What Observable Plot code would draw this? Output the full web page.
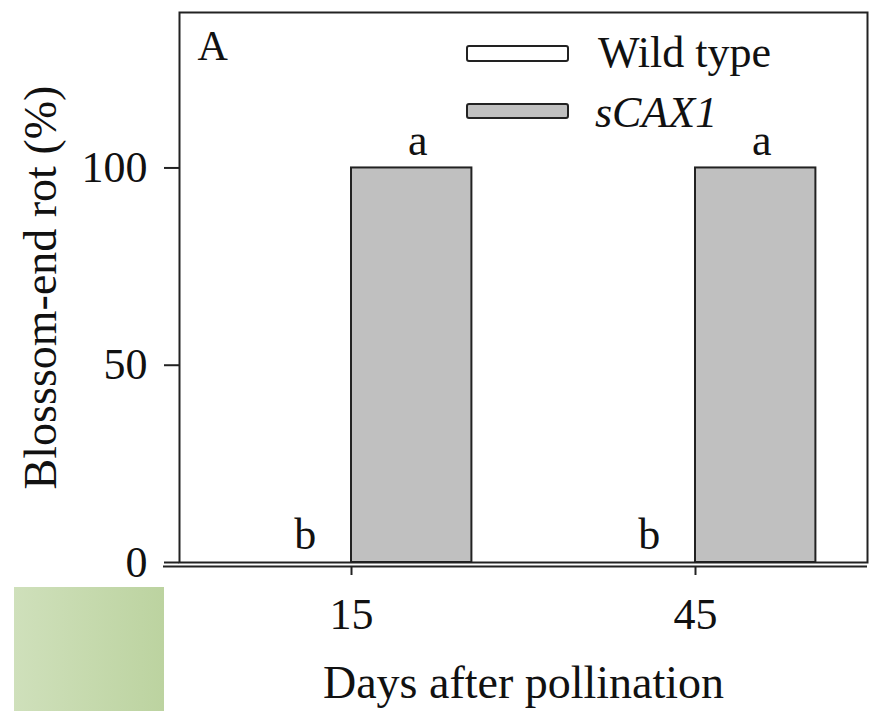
<!DOCTYPE html>
<html>
<head>
<meta charset="utf-8">
<script src="https://cdn.jsdelivr.net/npm/d3@7"></script>
<script src="https://cdn.jsdelivr.net/npm/@observablehq/plot@0.6"></script>
<style>
  html, body { margin: 0; padding: 0; background: #fff; }
  #wrap { position: relative; width: 875px; height: 711px; overflow: hidden; }
  #chart { position: absolute; left: 0; top: 0; }
  #legend { position: absolute; left: 0; top: 0; pointer-events: none; }
  #swatch { position: absolute; left: 14px; top: 587px; width: 150px; height: 124px;
            background: linear-gradient(to right, #cfe0bb, #bcd3a0); }
</style>
</head>
<body>
<div id="wrap">
  <div id="chart"></div>
  <div id="swatch"></div>
  <svg id="legend" width="875" height="711" font-family="Liberation Serif, Times New Roman, serif" font-size="44">
    <rect x="467" y="46" width="101" height="15" rx="2" fill="#fff" stroke="#222" stroke-width="2"></rect>
    <text x="598" y="67" fill="#111">Wild type</text>
    <rect x="467" y="104" width="101" height="14" rx="2" fill="#c0c0c0" stroke="#222" stroke-width="2"></rect>
    <text x="595" y="127" fill="#111" font-style="italic">sCAX1</text>
  </svg>
</div>
<script>
// Data
const days = [15, 45];
const seriesNames = ["Wild type", "sCAX1"];
const wildType = [0, 0];
const sCAX1 = [100, 100];
const wildLetters = ["b", "b"];
const sCAX1Letters = ["a", "a"];
const yTicks = [0, 50, 100];

const barWidth = 10.5; // in days
const fills = {"Wild type": "#ffffff", "sCAX1": "#c0c0c0"};

const rows = [];
days.forEach((d, i) => {
  rows.push({day: d, series: seriesNames[0], value: wildType[i], letter: wildLetters[i]});
  rows.push({day: d, series: seriesNames[1], value: sCAX1[i], letter: sCAX1Letters[i]});
});
const x1 = r => r.series === "Wild type" ? r.day - barWidth : r.day;
const x2 = r => r.series === "Wild type" ? r.day : r.day + barWidth;
const xc = r => (x1(r) + x2(r)) / 2;
const wtRows = rows.filter(r => r.series === "Wild type");
const mutRows = rows.filter(r => r.series === "sCAX1");

const chart = Plot.plot({
  width: 875,
  height: 711,
  marginLeft: 179,
  marginRight: 8,
  marginTop: 12,
  marginBottom: 149,
  style: {fontFamily: "Liberation Serif, Times New Roman, serif", fontSize: "44px", color: "#111", background: "transparent"},
  x: {domain: [0, 60]},
  y: {domain: [0, 139.4]},
  marks: [
    Plot.rectY(rows, {x1, x2, y: "value", fill: r => fills[r.series], stroke: "#222", strokeWidth: 2}),
    Plot.frame({stroke: "#222", strokeWidth: 2}),
    Plot.ruleY([0], {dy: 4, insetLeft: -16, stroke: "#222", strokeWidth: 2}),
    Plot.axisY({ticks: yTicks, tickSize: 15, tickPadding: 17, label: null, fontSize: 44, stroke: "#222", strokeWidth: 2}),
    Plot.axisX({ticks: days, tickSize: 9, tickPadding: 22, dy: 4, label: null, fontSize: 44, stroke: "#222", strokeWidth: 2}),
    Plot.text(wtRows, {x: xc, y: "value", text: "letter", dy: -14, dx: 14, lineAnchor: "bottom", fontSize: 44, fill: "#111"}),
    Plot.text(mutRows, {x: xc, y: "value", text: "letter", dy: -13, dx: 6, lineAnchor: "bottom", fontSize: 44, fill: "#111"}),
    Plot.text(["A"], {frameAnchor: "top-left", dx: 18, dy: 47, lineAnchor: "bottom", textAnchor: "start", fontSize: 42, fill: "#111"}),
    Plot.text(["Blosssom-end rot (%)"], {frameAnchor: "left", rotate: -90, dx: -124, lineAnchor: "bottom", textAnchor: "middle", fontSize: 46, fill: "#111"}),
    Plot.text(["Days after pollination"], {frameAnchor: "bottom", dy: 135, lineAnchor: "bottom", textAnchor: "middle", fontSize: 46, fill: "#111"})
  ]
});
document.getElementById("chart").appendChild(chart);
</script>
</body>
</html>
